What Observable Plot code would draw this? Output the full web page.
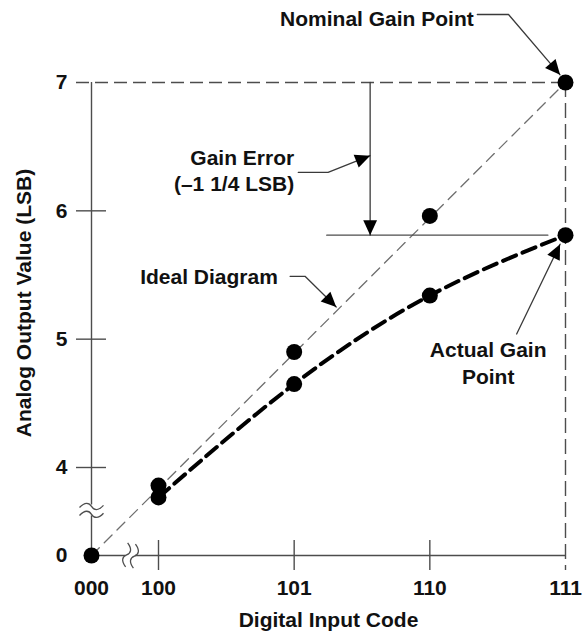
<!DOCTYPE html>
<html><head><meta charset="utf-8">
<script src="https://cdn.jsdelivr.net/npm/d3@7"></script>
<script src="https://cdn.jsdelivr.net/npm/@observablehq/plot@0.6"></script>
<style>html,body{margin:0;padding:0;background:#fff}#chart svg{display:block}</style>
</head><body><div id="chart"></div>
<script>
// ---- data ----
const codes = [0, 4, 5, 6, 7];
const codeLabels = ["000", "100", "101", "110", "111"];
const yTickValues = [0, 4, 5, 6, 7];
const yTickMarks = [4, 5, 6];
const xTickMarks = [4, 5, 6];
const idealCodes = [0, 4, 5, 6, 7];
const idealValues = [0, 3.18, 4.9, 5.96, 7];
const actualCodes = [4, 5, 6, 7];
const actualValues = [2.64, 4.65, 5.34, 5.81];
const nominalGain = 7;
const actualGain = 5.81;
const xBreak = [2.03, 2.63];
const yBreak = [1.8, 2.3];

// annotation texts
const noteText = ["Nominal Gain Point", "Gain Error", "(\u20131 1/4 LSB)", "Ideal Diagram", "Actual Gain", "Point"];
const noteX = [5.61, 5.0, 5.0, 4.88, 6.43, 6.43];
const noteY = [7.49, 6.41, 6.21, 5.48, 4.91, 4.70];
const noteAnchor = ["middle", "end", "end", "end", "middle", "middle"];

// leader polylines (last point = arrow tip)
const leaderNames = ["nominal", "gainError", "ideal", "actual", "drop"];
const leaderXs = [[6.35, 6.58, 6.96], [5.03, 5.25, 5.56], [4.97, 5.08, 5.31], [6.64, 6.96], [5.56, 5.56]];
const leaderYs = [[7.53, 7.53, 7.06], [6.30, 6.30, 6.43], [5.49, 5.49, 5.25], [5.04, 5.74], [7, 5.81]];
const gainLineX = [5.24, 6.87];

// ---- scales (piecewise for broken axes) ----
const W = 582, H = 632;
const xDomain = [0, 4, 7], xRange = [91, 158, 565];
const yDomain = [0, 4, 7], yRange = [555, 467, 82];
const xs = Plot.scale({x: {type: "linear", domain: xDomain, range: xRange}});
const ys = Plot.scale({y: {type: "linear", domain: yDomain, range: yRange}});

const notes = noteText.map((t, i) => ({t, x: noteX[i], y: noteY[i], a: noteAnchor[i]}));
const leaders = leaderNames.flatMap((n, k) => leaderXs[k].map((x, j) => ({n, x, y: leaderYs[k][j]})));
const heads = leaderNames.map((n, k) => {
  const lx = leaderXs[k], ly = leaderYs[k], m = lx.length;
  const ax = xs.apply(lx[m - 2]), ay = ys.apply(ly[m - 2]);
  const bx = xs.apply(lx[m - 1]), by = ys.apply(ly[m - 1]);
  return {x: lx[m - 1], y: ly[m - 1], angle: Math.atan2(bx - ax, -(by - ay)) * 180 / Math.PI};
});
// filled arrowhead with its tip at the anchor point
const arrowSymbol = {
  draw(context, size) {
    const r = Math.sqrt(size / Math.PI);
    const h = r * 2.5, w = r * 1.15;
    context.moveTo(0, 0);
    context.lineTo(w, h);
    context.lineTo(-w, h);
    context.closePath();
  }
};
// axis-break glyph: two thin waves
const breakSymbol = {
  draw(context, size) {
    const r = Math.sqrt(size / Math.PI);
    const hw = r, a = r * 0.3, gap = r * 0.33;
    for (const y of [-gap, gap]) {
      context.moveTo(-hw, y + a * 0.3);
      context.bezierCurveTo(-hw * 0.55, y - a * 1.3, -hw * 0.2, y - a * 1.1, 0, y);
      context.bezierCurveTo(hw * 0.2, y + a * 1.1, hw * 0.55, y + a * 1.3, hw, y - a * 0.3);
    }
  }
};
const idealPts = idealCodes.map((x, i) => ({x, y: idealValues[i]}));
const actualPts = actualCodes.map((x, i) => ({x, y: actualValues[i]}));
const yAxisSegs = [{y1: 0, y2: yBreak[0]}, {y1: yBreak[1], y2: nominalGain}];
const xAxisSegs = [{x1: 0, x2: xBreak[0]}, {x1: xBreak[1], x2: 7}];
const breaks = [
  {x: 0, y: (yBreak[0] + yBreak[1]) / 2, angle: 0},
  {x: (xBreak[0] + xBreak[1]) / 2, y: 0, angle: 100}
];

const axisColor = "#4d4d4d";
const ink = "#111";
const fs = 21;

const chart = Plot.plot({
  width: W, height: H,
  marginLeft: 91, marginRight: 17, marginTop: 82, marginBottom: 77,
  style: {fontFamily: "'Liberation Sans', Arial, sans-serif", fontSize: fs + "px", fontWeight: "bold", background: "#fff"},
  x: {type: "linear", domain: xDomain, range: xRange},
  y: {type: "linear", domain: yDomain, range: yRange},
  marks: [
    // axis lines with breaks
    Plot.ruleX(yAxisSegs, {x: () => 0, y1: "y1", y2: "y2", stroke: axisColor, strokeWidth: 1.4}),
    Plot.ruleY(xAxisSegs, {y: () => 0, x1: "x1", x2: "x2", stroke: axisColor, strokeWidth: 1.4}),
    Plot.dot(breaks, {x: "x", y: "y", rotate: "angle", symbol: breakSymbol, r: 12, fill: "none", stroke: axisColor, strokeWidth: 1.3}),
    // ticks
    Plot.axisY({ticks: yTickMarks, tickSize: 30, dx: 15, fill: "none", stroke: axisColor, strokeWidth: 1.4, label: null}),
    Plot.axisX({ticks: xTickMarks, tickSize: 30, dy: -15, fill: "none", stroke: axisColor, strokeWidth: 1.4, label: null}),
    // tick labels
    Plot.axisY({ticks: yTickValues, tickSize: 0, tickPadding: 24, tickFormat: d => String(d), fill: ink, fontSize: fs, fontWeight: "bold", label: null}),
    Plot.axisX({ticks: codes, tickSize: 0, tickPadding: 25, fill: ink, fontSize: fs, fontWeight: "bold",
      tickFormat: d => codeLabels[codes.indexOf(d)], label: null}),
    // dashed guides
    Plot.ruleY([nominalGain], {x1: 0, x2: 7, insetLeft: -15, stroke: axisColor, strokeWidth: 1.4, strokeDasharray: "13,6"}),
    Plot.ruleX([7], {y1: nominalGain, y2: 0, insetBottom: -15, stroke: axisColor, strokeWidth: 1.4, strokeDasharray: "15,6"}),
    // ideal line
    Plot.line([idealPts[0], idealPts[idealPts.length - 1]], {x: "x", y: "y", stroke: "#6e6e6e", strokeWidth: 1.3, strokeDasharray: "11,7"}),
    // gain level line
    Plot.line(gainLineX.map(x => ({x, y: actualGain})), {x: "x", y: "y", stroke: axisColor, strokeWidth: 1.3}),
    // actual curve
    Plot.line(actualPts, {x: "x", y: "y", curve: "natural", stroke: "#000", strokeWidth: 4, strokeDasharray: "14,7"}),
    // leaders
    Plot.line(leaders, {x: "x", y: "y", z: "n", stroke: "#3a3a3a", strokeWidth: 1.3}),
    Plot.dot(heads, {x: "x", y: "y", rotate: "angle", symbol: arrowSymbol, r: 6, fill: "#000", stroke: "none"}),
    // points
    Plot.dot(idealPts, {x: "x", y: "y", r: 8, fill: "#000"}),
    Plot.dot(actualPts, {x: "x", y: "y", r: 8, fill: "#000"}),
    // annotations
    Plot.text(notes.filter(d => d.a === "middle"), {x: "x", y: "y", text: "t", textAnchor: "middle", fill: ink, fontSize: fs, fontWeight: "bold"}),
    Plot.text(notes.filter(d => d.a === "end"), {x: "x", y: "y", text: "t", textAnchor: "end", fill: ink, fontSize: fs, fontWeight: "bold"}),
    // axis titles
    Plot.text(["Digital Input Code"], {frameAnchor: "bottom", dy: 65, lineAnchor: "middle", textAnchor: "middle", text: d => d, fill: ink, fontSize: fs, fontWeight: "bold"}),
    Plot.text(["Analog Output Value (LSB)"], {frameAnchor: "left", dx: -67, dy: -16, rotate: -90, textAnchor: "middle", lineAnchor: "middle", text: d => d, fill: ink, fontSize: fs, fontWeight: "bold"})
  ]
});
document.getElementById("chart").append(chart);
</script>
</body></html>
